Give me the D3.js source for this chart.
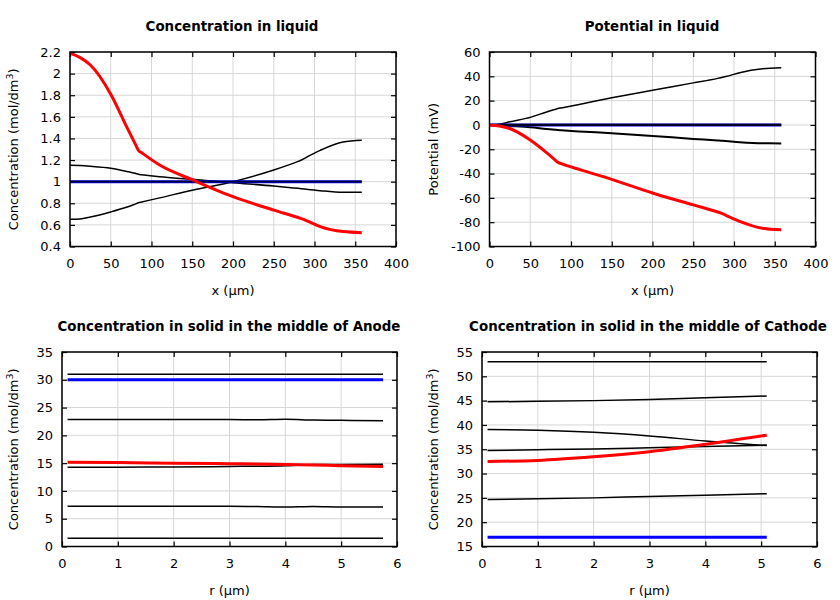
<!DOCTYPE html>
<html><head><meta charset="utf-8">
<script src="https://cdn.jsdelivr.net/npm/d3@7"></script>
<style>body{margin:0;background:#fff}svg{display:block}text{font-family:"DejaVu Sans",sans-serif}</style>
</head><body>
<svg id="c" width="840" height="600"></svg>
<script>
// ---- data ----
const xLiquid = [0, 12, 25, 50, 70, 80, 84, 88, 110, 150, 200, 250, 280, 284, 290, 307, 335, 358];
const concRed   = [2.19, 2.15, 2.08, 1.81, 1.50, 1.35, 1.29, 1.268, 1.154, 1.018, 0.861, 0.737, 0.668, 0.658, 0.64, 0.584, 0.538, 0.528];
const concLow   = [0.652, 0.655, 0.672, 0.72, 0.765, 0.792, 0.805, 0.812, 0.85, 0.921, 1.0, 1.108, 1.188, 1.2, 1.225, 1.29, 1.367, 1.383];
const concHigh  = [1.151, 1.149, 1.143, 1.125, 1.095, 1.077, 1.068, 1.064, 1.045, 1.022, 0.99, 0.96, 0.938, 0.935, 0.93, 0.917, 0.902, 0.901];
const concInit  = [1, 1, 1, 1, 1, 1, 1, 1, 1, 1, 1, 1, 1, 1, 1, 1, 1, 1];
const concFinal = [1, 1, 1, 1, 1, 1, 1, 1, 1, 1, 1, 1, 1, 1, 1, 1, 1, 1];
const potRed    = [0, -0.8, -2.9, -12.4, -22.8, -28.5, -30.8, -31.8, -36.6, -44.8, -56, -65.8, -71.6, -72.5, -74.3, -79.3, -85, -86.3];
const potUp     = [0, 0.6, 2.6, 6.2, 10.7, 12.7, 13.5, 14.0, 16.9, 22.3, 28.5, 34.6, 38.3, 38.9, 39.8, 43, 46.2, 47];
const potLow    = [0, -0.2, -0.8, -2, -3.3, -3.9, -4.2, -4.35, -5.3, -6.8, -9, -11.5, -12.8, -13, -13.3, -14.2, -15.1, -15.2];
const potInit   = [0, 0, 0, 0, 0, 0, 0, 0, 0, 0, 0, 0, 0, 0, 0, 0, 0, 0];
const potFinal  = [0, 0, 0, 0, 0, 0, 0, 0, 0, 0, 0, 0, 0, 0, 0, 0, 0, 0];

const rAnode = [0.1, 1, 2, 3, 3.5, 4, 4.5, 5, 5.75];
const anA = [31, 31, 31, 31, 31, 31, 31, 31, 31];
const anInit = [30, 30, 30, 30, 30, 30, 30, 30, 30];
const anB = [22.85, 22.85, 22.85, 22.85, 22.8, 22.9, 22.75, 22.7, 22.65];
const anRed = [15.15, 15.1, 15.0, 14.9, 14.85, 14.75, 14.65, 14.55, 14.4];
const anC = [14.25, 14.28, 14.3, 14.4, 14.45, 14.55, 14.75, 14.75, 14.8];
const anD = [7.25, 7.25, 7.25, 7.25, 7.2, 7.1, 7.2, 7.1, 7.1];
const anE = [1.5, 1.5, 1.5, 1.5, 1.5, 1.5, 1.5, 1.5, 1.5];

const rCathode = [0.1, 1, 2, 3, 4, 5.1];
const caA = [53, 53, 53, 53, 53, 53];
const caB = [44.75, 44.85, 45.0, 45.25, 45.6, 45.95];
const caC = [39.05, 38.9, 38.5, 37.75, 36.7, 35.75];
const caD = [34.75, 34.9, 35.05, 35.3, 35.55, 35.85];
const caRed = [32.5, 32.7, 33.45, 34.5, 36.0, 37.9];
const caE = [24.65, 24.8, 25.0, 25.3, 25.55, 25.85];
const caInit = [16.9, 16.9, 16.9, 16.9, 16.9, 16.9];

const xTicks1 = [0, 50, 100, 150, 200, 250, 300, 350, 400];
const yTicks1 = [0.4, 0.6, 0.8, 1, 1.2, 1.4, 1.6, 1.8, 2, 2.2];
const yTicks2 = [-100, -80, -60, -40, -20, 0, 20, 40, 60];
const rTicks = [0, 1, 2, 3, 4, 5, 6];
const yTicks3 = [0, 5, 10, 15, 20, 25, 30, 35];
const yTicks4 = [15, 20, 25, 30, 35, 40, 45, 50, 55];

const svg = d3.select("#c");

function panel(o) {
  const x = d3.scaleLinear().domain(o.xd).range([o.l, o.r]);
  const y = d3.scaleLinear().domain(o.yd).range([o.b, o.t]);
  const g = svg.append("g");
  // grid
  g.selectAll(".gx").data(o.xt).join("line")
    .attr("x1", d => x(d)).attr("x2", d => x(d)).attr("y1", o.t).attr("y2", o.b)
    .attr("stroke", "#d6d6d6").attr("stroke-width", 1);
  g.selectAll(".gy").data(o.yt).join("line")
    .attr("y1", d => y(d)).attr("y2", d => y(d)).attr("x1", o.l).attr("x2", o.r)
    .attr("stroke", "#d6d6d6").attr("stroke-width", 1);
  // axes with inward ticks
  const fmt = d => String(d);
  g.append("g").attr("transform", `translate(0,${o.b})`)
    .call(d3.axisBottom(x).tickValues(o.xt).tickSize(-5).tickPadding(12).tickFormat(fmt))
    .call(a => { a.select(".domain").remove(); a.selectAll("text").attr("font-size", 13).attr("font-family", "DejaVu Sans"); a.selectAll("line").attr("stroke-width", 1.2); });
  g.append("g").attr("transform", `translate(0,${o.t})`)
    .call(d3.axisTop(x).tickValues(o.xt).tickSize(-5).tickFormat(""))
    .call(a => { a.select(".domain").remove(); a.selectAll("line").attr("stroke-width", 1.2); });
  g.append("g").attr("transform", `translate(${o.l},0)`)
    .call(d3.axisLeft(y).tickValues(o.yt).tickSize(-5).tickPadding(9).tickFormat(fmt))
    .call(a => { a.select(".domain").remove(); a.selectAll("text").attr("font-size", 13).attr("font-family", "DejaVu Sans"); a.selectAll("line").attr("stroke-width", 1.2); });
  g.append("g").attr("transform", `translate(${o.r},0)`)
    .call(d3.axisRight(y).tickValues(o.yt).tickSize(-5).tickFormat(""))
    .call(a => { a.select(".domain").remove(); a.selectAll("line").attr("stroke-width", 1.2); });
  // series
  const line = d3.line().x(d => x(d[0])).y(d => y(d[1])).curve(d3.curveMonotoneX);
  o.series.forEach(s => {
    g.append("path").datum(o.xs.map((xv, i) => [xv, s.v[i]]))
      .attr("d", line).attr("fill", "none").attr("stroke", s.c).attr("stroke-width", s.w)
      .attr("stroke-linejoin", "round");
  });
  // border
  g.append("rect").attr("x", o.l).attr("y", o.t).attr("width", o.r - o.l).attr("height", o.b - o.t)
    .attr("fill", "none").attr("stroke", "#000").attr("stroke-width", 1.5);
  // title
  g.append("text").attr("x", o.tx).attr("y", o.t - 21).attr("text-anchor", "middle")
    .attr("font-size", 13.4).attr("font-weight", "bold").text(o.title);
  // x label
  g.append("text").attr("x", (o.l + o.r) / 2).attr("y", o.b + 48).attr("text-anchor", "middle")
    .attr("font-size", 13).text(o.xl);
  // y label
  const yl = g.append("text").attr("transform", `translate(${o.ylx},${(o.t + o.b) / 2}) rotate(-90)`)
    .attr("text-anchor", "middle").attr("font-size", 13);
  if (o.sup) {
    yl.append("tspan").text("Concentration (mol/dm");
    yl.append("tspan").attr("dy", -5).attr("font-size", 9.5).text("3");
    yl.append("tspan").attr("dy", 5).text(")");
  } else yl.text(o.yl);
}

panel({ l: 70, r: 396, t: 52, b: 246.5, xd: [0, 400], yd: [0.4, 2.2], xt: xTicks1, yt: yTicks1,
  xs: xLiquid, title: "Concentration in liquid", tx: 232, xl: "x (µm)", ylx: 18, sup: true,
  series: [
    { v: concLow, c: "#000", w: 1.5 }, { v: concHigh, c: "#000", w: 1.5 },
    { v: concInit, c: "#0000ff", w: 3 }, { v: concFinal, c: "#000030", w: 1.7 }, { v: concRed, c: "#ff0000", w: 3 }] });

panel({ l: 489.5, r: 815.5, t: 52, b: 246.5, xd: [0, 400], yd: [-100, 60], xt: xTicks1, yt: yTicks2,
  xs: xLiquid, title: "Potential in liquid", tx: 652, xl: "x (µm)", ylx: 438, yl: "Potential (mV)",
  series: [
    { v: potUp, c: "#000", w: 1.5 }, { v: potLow, c: "#000", w: 2 },
    { v: potInit, c: "#0000ff", w: 3 }, { v: potFinal, c: "#000020", w: 2.2 }, { v: potRed, c: "#ff0000", w: 3 }] });

panel({ l: 62, r: 397, t: 352, b: 546.5, xd: [0, 6], yd: [0, 35], xt: rTicks, yt: yTicks3,
  xs: rAnode, title: "Concentration in solid in the middle of Anode", tx: 229, xl: "r (µm)", ylx: 18, sup: true,
  series: [
    { v: anA, c: "#000", w: 1.5 }, { v: anB, c: "#000", w: 1.5 }, { v: anC, c: "#000", w: 1.5 },
    { v: anD, c: "#000", w: 1.5 }, { v: anE, c: "#000", w: 1.5 },
    { v: anInit, c: "#0000ff", w: 3 }, { v: anRed, c: "#ff0000", w: 3 }] });

panel({ l: 482, r: 817, t: 352, b: 546.5, xd: [0, 6], yd: [15, 55], xt: rTicks, yt: yTicks4,
  xs: rCathode, title: "Concentration in solid in the middle of Cathode", tx: 648, xl: "r (µm)", ylx: 438, sup: true,
  series: [
    { v: caA, c: "#000", w: 1.5 }, { v: caB, c: "#000", w: 1.5 }, { v: caC, c: "#000", w: 1.5 },
    { v: caD, c: "#000", w: 1.5 }, { v: caE, c: "#000", w: 1.5 },
    { v: caInit, c: "#0000ff", w: 3 }, { v: caRed, c: "#ff0000", w: 3 }] });
</script>
</body></html>
